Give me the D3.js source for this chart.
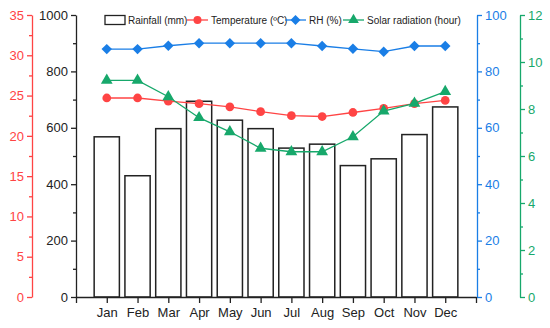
<!DOCTYPE html>
<html>
<head>
<meta charset="utf-8">
<script src="https://cdn.jsdelivr.net/npm/d3@7"></script>
<style>
  body { margin: 0; background: #fff; }
  svg { font-family: "Liberation Sans", Arial, sans-serif; }
</style>
</head>
<body>
<div id="wrapper"></div>
<script>
// data
const months = ["Jan", "Feb", "Mar", "Apr", "May", "Jun", "Jul", "Aug", "Sep", "Oct", "Nov", "Dec"];
const rainfall = [568, 430, 597, 694, 627, 597, 528, 542, 466, 490, 576, 674];
const temperature = [24.7, 24.7, 24.3, 24.0, 23.6, 23.0, 22.5, 22.4, 22.9, 23.4, 24.0, 24.4];
const humidity = [87.9, 87.9, 89.1, 90, 90, 90, 90, 89, 88, 87, 89, 89];
const solar = [9.22, 9.22, 8.52, 7.63, 7.03, 6.33, 6.18, 6.18, 6.82, 7.91, 8.24, 8.74];

const rainTicks = d3.range(0, 1001, 200);
const tempTicks = d3.range(0, 36, 5);
const rhTicks = d3.range(0, 101, 20);
const solarTicks = d3.range(0, 13, 2);

const red = "#ff4444";
const blue = "#1a7ee6";
const green = "#17a86b";

const width = 550;
const height = 328;
const plot = { left: 76, right: 476, top: 15, bottom: 297 };

const svg = d3.select("#wrapper").append("svg")
    .attr("width", width)
    .attr("height", height);

// scales
const xScale = d3.scaleLinear().domain([0, 13]).range([plot.left, plot.right]);
const yRain = d3.scaleLinear().domain([0, 1000]).range([plot.bottom, plot.top]);
const yTemp = d3.scaleLinear().domain([0, 35]).range([plot.bottom, plot.top]);
const yRH = d3.scaleLinear().domain([0, 100]).range([plot.bottom, plot.top]);
const ySolar = d3.scaleLinear().domain([0, 12]).range([plot.bottom, plot.top]);

// bars
const barW = xScale(0.82) - xScale(0);
svg.append("g").selectAll("rect")
  .data(rainfall)
  .join("rect")
    .attr("x", (d, i) => xScale(i + 1) - barW / 2)
    .attr("y", d => yRain(d))
    .attr("width", barW)
    .attr("height", d => yRain(0) - yRain(d))
    .attr("fill", "#fff")
    .attr("stroke", "#222")
    .attr("stroke-width", 1.5);

// helper: axis with major + minor ticks
function drawAxis(gen, scale, x, major, minorStep, color, fontSize) {
  const [lo, hi] = scale.domain();
  const minor = d3.range(lo, hi + 1e-9, minorStep).filter(v => !major.includes(v));
  const g = svg.append("g").attr("transform", `translate(${x},0)`);
  g.append("g")
    .call(gen(scale).tickValues(minor).tickSize(3).tickFormat(""))
    .call(s => s.select(".domain").remove());
  g.append("g")
    .call(gen(scale).tickValues(major).tickSize(5).tickSizeOuter(0).tickPadding(3).tickFormat(d3.format("d")))
    .call(s => s.selectAll("text").attr("font-size", fontSize).attr("font-family", null).attr("fill", color));
  g.selectAll("line, path").attr("stroke", color).attr("stroke-width", 1.3);
  return g;
}

drawAxis(d3.axisLeft, yTemp, 32, tempTicks, 2.5, red, 13);
drawAxis(d3.axisLeft, yRain, plot.left, rainTicks, 100, "#222", 13);
drawAxis(d3.axisRight, yRH, 477, rhTicks, 10, blue, 13);
drawAxis(d3.axisRight, ySolar, 520, solarTicks, 1, green, 13);

// x axis
const xAxis = svg.append("g")
    .attr("transform", `translate(0,${plot.bottom})`)
    .call(d3.axisBottom(xScale)
      .tickValues(d3.range(0, 14))
      .tickSize(6)
      .tickSizeOuter(0)
      .tickPadding(5)
      .tickFormat(d => months[d - 1] || ""));
xAxis.selectAll("text").attr("font-size", 13).attr("font-family", null).attr("fill", "#222");
xAxis.selectAll("line, path").attr("stroke", "#222").attr("stroke-width", 1.3);

// diamond = square turned 45 degrees
const diamond = {
  draw(ctx, size) {
    const r = Math.sqrt(size / 2);
    ctx.moveTo(0, -r);
    ctx.lineTo(r, 0);
    ctx.lineTo(0, r);
    ctx.lineTo(-r, 0);
    ctx.closePath();
  }
};

// line series
const series = [
  { values: temperature, scale: yTemp, color: red, shape: d3.symbolCircle, size: 60 },
  { values: humidity, scale: yRH, color: blue, shape: diamond, size: 55 },
  { values: solar, scale: ySolar, color: green, shape: d3.symbolTriangle, size: 60 },
];

series.forEach(s => {
  const line = d3.line()
    .x((d, i) => xScale(i + 1))
    .y(d => s.scale(d));
  svg.append("path")
    .datum(s.values)
    .attr("d", line)
    .attr("fill", "none")
    .attr("stroke", s.color)
    .attr("stroke-width", 1.3);
  svg.append("g").selectAll("path")
    .data(s.values)
    .join("path")
      .attr("transform", (d, i) => `translate(${xScale(i + 1)},${s.scale(d)})`)
      .attr("d", d3.symbol(s.shape, s.size))
      .attr("fill", s.color);
});

// legend
const legend = svg.append("g").attr("font-size", 10).attr("fill", "#222");
legend.append("rect")
    .attr("x", 105).attr("y", 15.5).attr("width", 20).attr("height", 9)
    .attr("fill", "#fff").attr("stroke", "#222").attr("stroke-width", 1.3);
legend.append("text").attr("x", 128).attr("y", 23.5).text("Rainfall (mm)");

const legendItems = [
  { x: 187, label: "Temperature (\u00baC)", s: series[0] },
  { x: 285, label: "RH (%)", s: series[1] },
  { x: 343, label: "Solar radiation (hour)", s: series[2] },
];
legendItems.forEach(item => {
  legend.append("line")
      .attr("x1", item.x).attr("x2", item.x + 21)
      .attr("y1", 20).attr("y2", 20)
      .attr("stroke", item.s.color).attr("stroke-width", 1.3);
  legend.append("path")
      .attr("transform", `translate(${item.x + 10.5},20)`)
      .attr("d", d3.symbol(item.s.shape, 50))
      .attr("fill", item.s.color);
  legend.append("text").attr("x", item.x + 24).attr("y", 23.5).text(item.label);
});
</script>
</body>
</html>
